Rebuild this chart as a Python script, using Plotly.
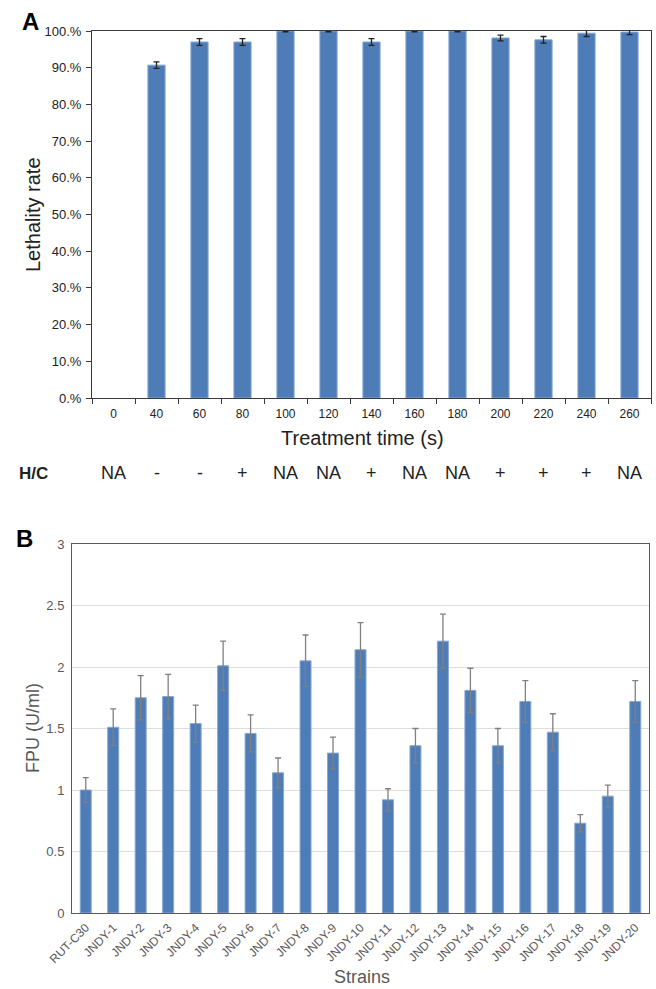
import plotly.graph_objects as go

# ---------------- Data ----------------
time_labels = ["0", "40", "60", "80", "100", "120", "140", "160", "180", "200", "220", "240", "260"]
lethality = [0, 90.7, 97.0, 97.0, 100, 100, 97.0, 100, 100, 98.1, 97.6, 99.4, 99.7]
lethality_err = [0, 0.9, 0.9, 0.9, 0.2, 0.2, 0.9, 0.2, 0.2, 0.8, 0.9, 0.9, 0.7]
hc_labels = ["NA", "-", "-", "+", "NA", "NA", "+", "NA", "NA", "+", "+", "+", "NA"]
pct_tickvals = [0, 10, 20, 30, 40, 50, 60, 70, 80, 90, 100]
pct_ticktext = ["0.%", "10.%", "20.%", "30.%", "40.%", "50.%", "60.%", "70.%", "80.%", "90.%", "100.%"]

strains = ["RUT-C30", "JNDY-1", "JNDY-2", "JNDY-3", "JNDY-4", "JNDY-5", "JNDY-6", "JNDY-7",
           "JNDY-8", "JNDY-9", "JNDY-10", "JNDY-11", "JNDY-12", "JNDY-13", "JNDY-14",
           "JNDY-15", "JNDY-16", "JNDY-17", "JNDY-18", "JNDY-19", "JNDY-20"]
fpu = [1.00, 1.51, 1.75, 1.76, 1.54, 2.01, 1.46, 1.14, 2.05, 1.30, 2.14, 0.92, 1.36,
       2.21, 1.81, 1.36, 1.72, 1.47, 0.73, 0.95, 1.72]
fpu_err = [0.10, 0.15, 0.18, 0.18, 0.15, 0.20, 0.15, 0.12, 0.21, 0.13, 0.22, 0.09, 0.14,
           0.22, 0.18, 0.14, 0.17, 0.15, 0.07, 0.09, 0.17]

W, H = 656, 989
def px(x):
    return x / W
def py(y):
    return 1 - y / H

BAR = "#4e7cb7"
EDGE = "#87a7d3"
FONT = "Liberation Sans, Arial, sans-serif"

# zero-height bars are drawn as empty (no mark), like the reference
bar_y = [v if v > 0 else None for v in lethality]
bar_err = [e if v > 0 else None for v, e in zip(lethality, lethality_err)]

fig = go.Figure()

fig.add_trace(go.Bar(
    x=time_labels, y=bar_y, xaxis="x", yaxis="y",
    marker=dict(color=BAR, line=dict(color=EDGE, width=1)),
    error_y=dict(type="data", array=bar_err, visible=True,
                 color="#222222", thickness=1.3, width=3),
    showlegend=False,
))

fig.add_trace(go.Bar(
    x=strains, y=fpu, xaxis="x2", yaxis="y2",
    marker=dict(color=BAR, line=dict(color=EDGE, width=1)),
    error_y=dict(type="data", array=fpu_err, visible=True,
                 color="#808080", thickness=1.3, width=3),
    showlegend=False,
))

fig.update_layout(
    width=W, height=H,
    margin=dict(l=0, r=0, t=0, b=0),
    paper_bgcolor="white", plot_bgcolor="white",
    font=dict(family=FONT, color="#222222"),
    bargap=0.6,
    xaxis=dict(
        domain=[px(92), px(651)], anchor="y", type="category", automargin=False,
        categoryorder="array", categoryarray=time_labels,
        showline=True, mirror=True, linecolor="#3a3a3a", linewidth=1,
        ticks="outside", ticklen=5, tickcolor="#3a3a3a", tickson="boundaries",
        ticklabelstandoff=5,
        tickfont=dict(size=12, color="#222222"), showgrid=False,
    ),
    yaxis=dict(
        domain=[py(398), py(31)], anchor="x", range=[0, 100], automargin=False,
        showline=True, mirror=True, linecolor="#3a3a3a", linewidth=1,
        ticks="outside", ticklen=5, tickcolor="#3a3a3a", ticklabelstandoff=2,
        tickvals=pct_tickvals, ticktext=pct_ticktext,
        tickfont=dict(size=13, color="#222222"), showgrid=False, zeroline=False,
    ),
    xaxis2=dict(
        domain=[px(72), px(649)], anchor="y2", type="category", automargin=False,
        showline=True, mirror=True, linecolor="#595959", linewidth=1,
        ticks="", tickangle=-45, ticklabelstandoff=2,
        tickfont=dict(size=12, color="#595959"), showgrid=False,
    ),
    yaxis2=dict(
        domain=[py(913), py(544)], anchor="x2", range=[0, 3], dtick=0.5, automargin=False,
        showline=True, mirror=True, linecolor="#595959", linewidth=1,
        ticks="", tickfont=dict(size=13, color="#595959"), ticklabelstandoff=4,
        showgrid=True, gridcolor="#dedede", gridwidth=1, zeroline=False,
    ),
)

def a(text, x, y, size, color, angle=0, xref="paper"):
    return dict(text=text, x=x, y=y, xref=xref, yref="paper", showarrow=False,
                xanchor="center", yanchor="middle", textangle=angle,
                font=dict(size=size, color=color))

ann = [
    a("<b>A</b>", px(30), py(22), 24, "black"),
    a("<b>B</b>", px(24), py(538), 24, "black"),
    a("Lethality rate", px(33), py(215), 20, "#222222", angle=-90),
    a("Treatment time (s)", px(362), py(438), 20, "#222222"),
    a("<b>H/C</b>", px(33), py(473), 17, "#222222"),
    a("FPU (U/ml)", px(33), py(728), 18, "#595959", angle=-90),
    a("Strains", px(362), py(977), 18, "#595959"),
]
for i, lab in enumerate(hc_labels):
    ann.append(a(lab, i, py(473), 18, "#222222", xref="x"))
fig.update_layout(annotations=ann)

fig.write_html("out.html")
